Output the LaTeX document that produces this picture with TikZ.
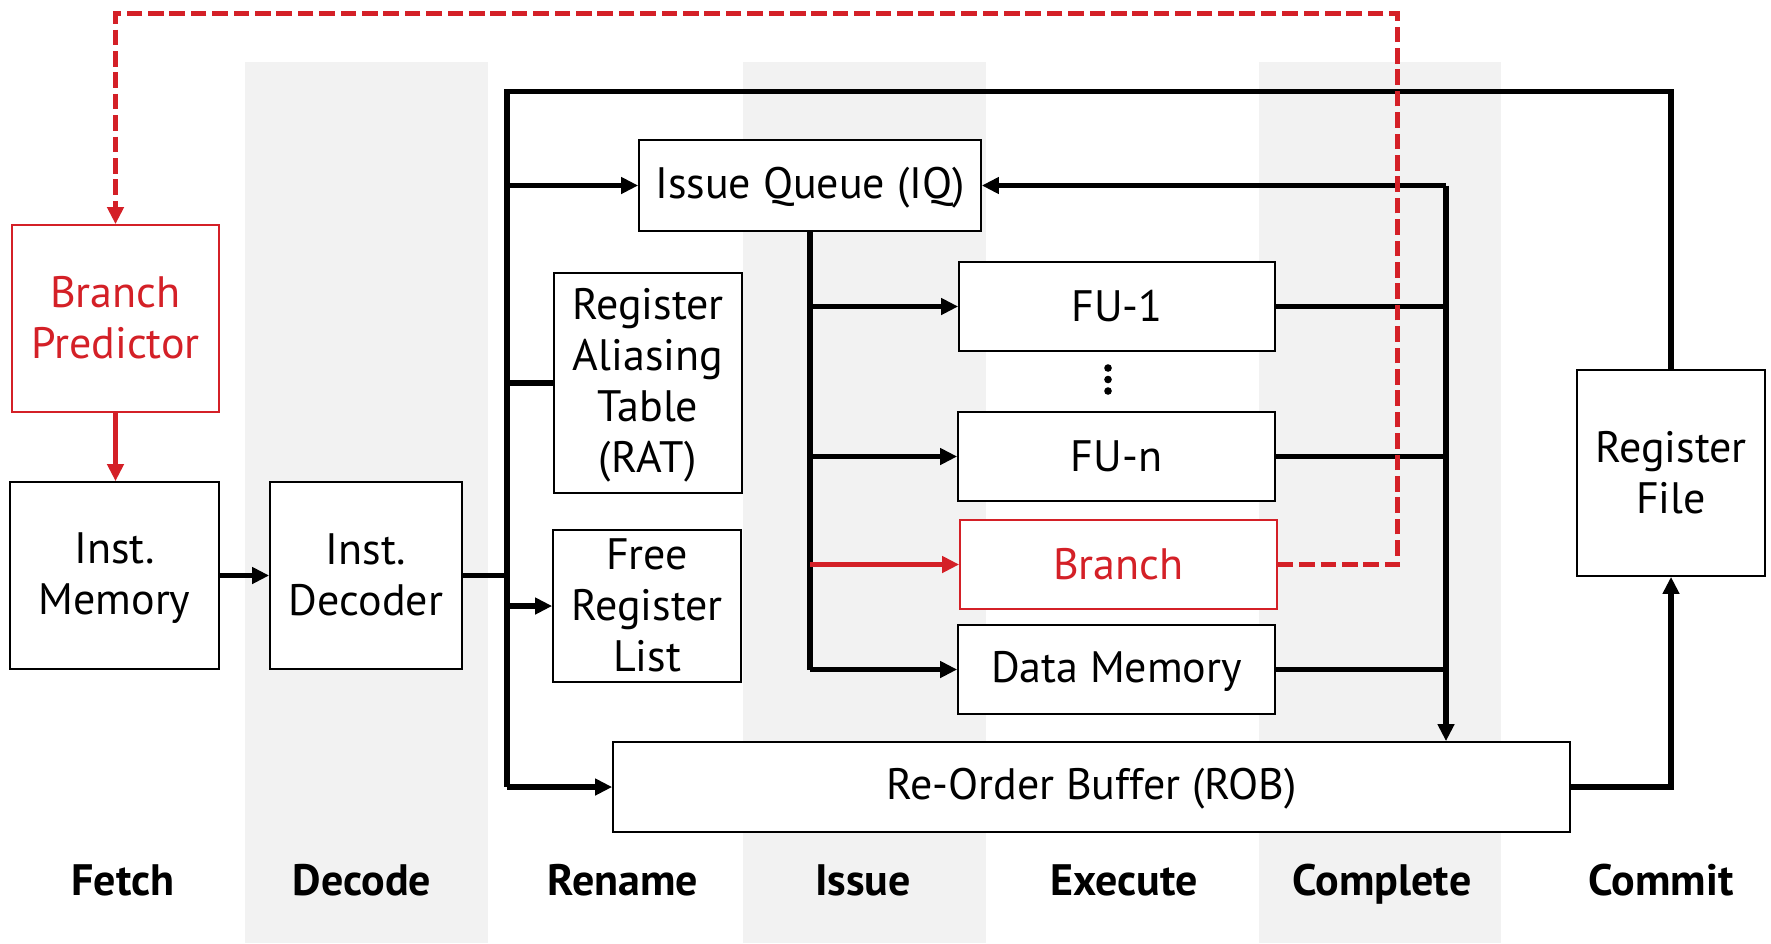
\documentclass[tikz,border=0pt]{standalone}
\usepackage{fontspec}
\setmainfont{PT Sans}
\usetikzlibrary{arrows.meta}
\definecolor{bandgray}{RGB}{242,242,242}
\definecolor{brred}{RGB}{212,32,39}
\newcommand\bodyfont{\fontsize{22}{25.5}\selectfont}
% uniform line box so every text line centres the same way
\newcommand\ls{\rule[-3pt]{0pt}{20.5pt}}
\begin{document}
\begin{tikzpicture}[x=0.5pt,y=-0.5pt,
  box/.style={draw=black, line width=0.85pt, fill=white, inner sep=0pt, align=center,
    font=\bodyfont},
  redbox/.style={box, draw=brred, text=brred},
  wire/.style={line width=2.7pt},
  arr/.style={-{Triangle[length=8.5pt,width=8pt]}},
  redwire/.style={line width=2.4pt, draw=brred},
  fb/.style={redwire, dash pattern=on 7.8pt off 2.9pt},
  stage/.style={font=\bodyfont\bfseries, anchor=base, inner sep=0pt},
  band/.style={fill=bandgray, draw=none}]
\useasboundingbox (0,0) rectangle (1771,943);
\fill[white] (0,0) rectangle (1771,943);

% pipeline stage shading
\path[band] (245,62) rectangle (488,943);
\path[band] (743,62) rectangle (986,943);
\path[band] (1259,62) rectangle (1501,943);

% blocks
\node[redbox, minimum width=103.5pt, minimum height=93.5pt] (bp) at (115.5,318.5) {\ls Branch\\\ls Predictor};
\node[box, minimum width=104.5pt, minimum height=93.5pt] (im) at (114.5,575.5) {\ls Inst.\\\ls Memory};
\node[box, minimum width=96pt, minimum height=93.5pt] (dec) at (366,575.5) {\ls Inst.\\\ls Decoder};
\node[box, minimum width=171pt, minimum height=45.5pt] (iq) at (810,185.5) {\ls Issue Queue (IQ)};
\node[box, minimum width=94pt, minimum height=110pt] (rat) at (648,383) {\ls Register\\\ls Aliasing\\\ls Table\\\ls (RAT)};
\node[box, minimum width=94pt, minimum height=76pt] (frl) at (647,606) {\ls Free\\\ls Register\\\ls List};
\node[box, minimum width=158pt, minimum height=44.5pt] (fu1) at (1117,306.5) {\ls FU-1};
\node[box, minimum width=158.5pt, minimum height=44.5pt] (fun) at (1116.5,456.5) {\ls FU-n};
\node[redbox, minimum width=158.5pt, minimum height=44.5pt] (br) at (1118.5,564.5) {\ls Branch};
\node[box, minimum width=158.5pt, minimum height=44.5pt] (dm) at (1116.5,669.5) {\ls Data Memory};
\node[box, minimum width=478.5pt, minimum height=45pt] (rob) at (1091.5,787) {\ls Re-Order Buffer (ROB)};
\node[box, minimum width=94pt, minimum height=103pt] (rf) at (1671,473) {\ls Register\\\ls File};

% vertical ellipsis between the functional units
\foreach \yy in {368,379.5,391} \fill (1108,\yy) circle[radius=1.9pt];

% routing points
\coordinate (bus) at (507,91.5);
\coordinate (col) at (1446,185.5);
\coordinate (fbR) at (1397.5,13.5);

% fetch and decode
\draw[redwire,arr] (bp.south) -- (bp.south |- im.north);
\draw[wire,arr] (im.east) -- (dec.east -| dec.west);
\draw[wire] (dec.east) -- (bus |- dec.east);

% register file feedback bus into rename
\draw[wire] (rf.north) |- (bus) -- (bus |- rob.west);
\draw[wire,arr] (bus |- iq.west) -- (iq.west);
\draw[wire] (bus |- rat.west) -- (rat.west);
\draw[wire,arr] (bus |- frl.west) -- (frl.west);
\draw[wire,arr] (bus |- rob.west) -- (rob.west);

% issue to functional units
\draw[wire] (iq.south) -- (iq.south |- dm.west);
\draw[wire,arr] (iq.south |- fu1.west) -- (fu1.west);
\draw[wire,arr] (iq.south |- fun.west) -- (fun.west);
\draw[redwire,arr] (iq.south |- br.west) -- (br.west);
\draw[wire,arr] (iq.south |- dm.west) -- (dm.west);

% results back to IQ and ROB
\draw[wire] (fu1.east) -- (col |- fu1.east);
\draw[wire] (fun.east) -- (col |- fun.east);
\draw[wire] (dm.east) -- (col |- dm.east);
\draw[wire,arr] (col) -- (iq.east);
\draw[wire,arr] (col) -- (col |- rob.north);

% commit
\draw[wire,arr] (rob.east) -| (rf.south);

% branch resolution back to the predictor
\draw[fb,arr] (br.east) -| (fbR) -| (bp.north);

% stage names
\node[stage] (sFetch) at (123,895) {Fetch};
\node[stage] (sDecode) at (362,895) {Decode};
\node[stage] (sRename) at (623,895) {Rename};
\node[stage] (sIssue) at (863,895) {Issue};
\node[stage] (sExec) at (1124,895) {Execute};
\node[stage] (sComplete) at (1382,895) {Complete};
\node[stage] (sCommit) at (1661,895) {Commit};
\end{tikzpicture}
\end{document}
